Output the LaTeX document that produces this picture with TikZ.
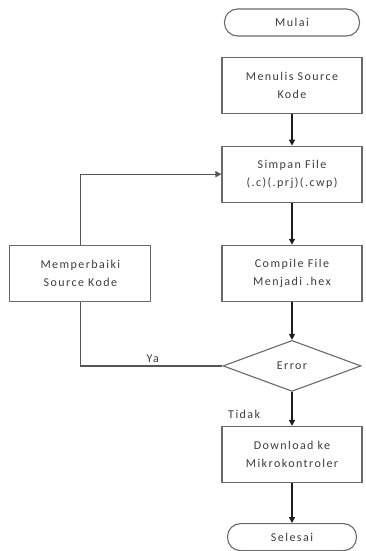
\documentclass[tikz,border=0pt]{standalone}
\usepackage{fontspec}
\setmainfont{Carlito}[LetterSpace=12]
\usetikzlibrary{positioning,arrows.meta,shapes.geometric}
\definecolor{cBorder}{HTML}{6A6A6A}
\definecolor{cText}{HTML}{3C3C3C}
\definecolor{cArrow}{HTML}{1E1E1E}

\begin{document}
\begin{tikzpicture}[
  font=\fontsize{12}{18}\selectfont,
  >={Triangle[length=6pt, width=6pt]},
  box/.style={rectangle, draw=cBorder, line width=1.1pt, text=cText, fill=white,
              align=center, inner sep=2pt, minimum width=140pt, minimum height=56pt},
  term/.style={rectangle, rounded corners=13pt, draw=cBorder, line width=1.1pt, text=cText,
               fill=white, align=center, inner sep=2pt, minimum height=27pt},
  decide/.style={diamond, draw=cBorder, line width=1.1pt, text=cText, fill=white,
                 inner sep=0pt, minimum width=138pt, minimum height=51pt},
  lab/.style={text=cText, inner sep=1pt},
  flow/.style={->, line width=1.8pt, draw=cArrow},
  loop/.style={->, line width=1.2pt, draw=cBorder!80!black},
]
\useasboundingbox (0,0) rectangle (366pt,-551pt);

% ---- main column ----
\node[term, minimum width=135pt] (mulai) at (292pt,-22.5pt) {Mulai};
\node[box, below=20pt of mulai] (menulis) {Menulis Source\\Kode};
\node[box, below=32pt of menulis] (simpan) {Simpan File\\(.c)(.prj)(.cwp)};
\node[box, below=42pt of simpan] (compile) {Compile File\\Menjadi .hex};
\node[decide, below=38pt of compile] (error) {Error};
\node[box, below=34pt of error] (download) {Download ke\\Mikrokontroler};
\node[term, minimum width=129pt, below=40pt of download] (selesai) {Selesai};

% ---- correction branch ----
\node[box, minimum width=141pt, left=70pt of compile] (perbaiki) {Memperbaiki\\Source Kode};

% ---- arrows ----
\draw[flow] (menulis.south) -- (simpan.north);
\draw[flow] (simpan.south) -- (compile.north);
\draw[flow] (compile.south) -- (error.north);
\draw[flow] (error.south) -- node[lab, pos=0.65, left=30pt] (tidak) {Tidak} (download.north);
\draw[flow] (download.south) -- (selesai.north);
\draw[loop, -] (error.west) -- node[lab, pos=0.49, above=2pt] (ya) {Ya} (perbaiki.south |- error.west) -- (perbaiki.south);
\draw[loop] (perbaiki.north) |- (simpan.west);

\end{tikzpicture}
\end{document}
